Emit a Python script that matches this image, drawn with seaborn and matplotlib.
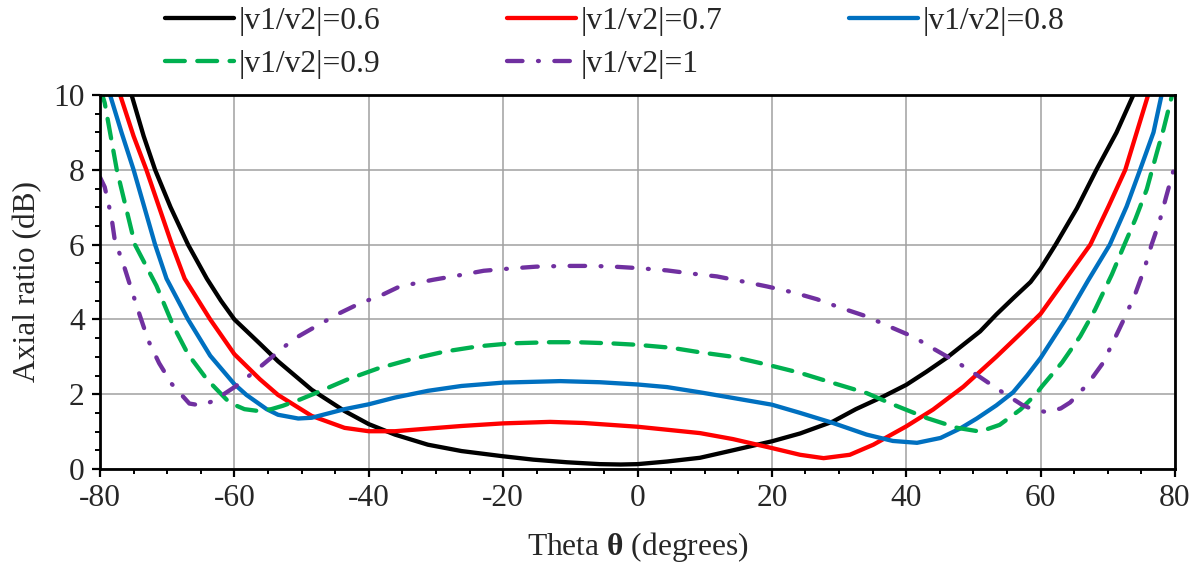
import numpy as np
import pandas as pd
import matplotlib
matplotlib.use("Agg")
import matplotlib.pyplot as plt
import seaborn as sns
from matplotlib.ticker import MultipleLocator

# ---------------- data ----------------
labels = ["|v1/v2|=0.6", "|v1/v2|=0.7", "|v1/v2|=0.8", "|v1/v2|=0.9", "|v1/v2|=1"]

x06 = [-75.3, -73.5, -71.8, -69.5, -66.9, -64.1, -62.0, -60.0, -56.2, -53.5, -48.5, -43.6,
       -40.0, -36.1, -31.2, -26.2, -20.0, -15.5, -10.5, -5.6, -2.5, 0.0, 4.4, 9.3, 14.2,
       20.0, 24.2, 29.1, 32.5, 36.6, 40.0, 43.0, 46.0, 51.0, 53.4, 56.0, 58.5, 60.0, 62.3,
       65.4, 68.3, 71.3, 73.8]
y06 = [10.0, 8.9, 8.0, 7.0, 6.0, 5.09, 4.5, 4.0, 3.35, 2.88, 2.12, 1.55,
       1.2, 0.92, 0.65, 0.48, 0.34, 0.25, 0.18, 0.13, 0.12, 0.13, 0.2, 0.3, 0.5,
       0.74, 0.95, 1.27, 1.6, 1.94, 2.25, 2.6, 2.97, 3.68, 4.13, 4.58, 5.0, 5.36, 6.02,
       6.97, 8.0, 9.0, 10.0]

x07 = [-77.0, -75.0, -73.1, -71.2, -69.3, -67.4, -63.6, -60.0, -56.2, -53.5, -48.5, -43.6,
       -40.0, -36.1, -31.2, -26.2, -20.0, -13.0, -8.0, 0.0, 4.4, 9.3, 14.2, 20.0, 24.2,
       27.7, 31.6, 35.1, 40.0, 44.0, 48.5, 53.4, 57.0, 60.0, 64.6, 67.4, 70.1, 72.6, 74.3,
       76.0]
y07 = [10.0, 8.9, 8.0, 7.0, 6.0, 5.09, 4.0, 3.07, 2.4, 1.98, 1.42, 1.10,
       1.01, 1.01, 1.08, 1.15, 1.22, 1.26, 1.23, 1.13, 1.05, 0.96, 0.8, 0.56, 0.38,
       0.29, 0.38, 0.65, 1.14, 1.59, 2.2, 3.0, 3.62, 4.15, 5.3, 6.0, 7.02, 8.0, 9.0,
       10.0]

x08 = [-78.5, -76.8, -75.0, -73.4, -71.8, -70.1, -66.9, -63.6, -60.0, -58.2, -55.2, -53.5,
       -50.5, -48.5, -43.6, -40.0, -36.1, -31.2, -26.2, -20.0, -11.5, -5.6, 0.0, 4.4, 9.3,
       14.2, 20.0, 24.2, 29.1, 34.1, 38.0, 41.6, 45.1, 48.0, 50.5, 53.4, 55.9, 58.0, 60.0,
       63.7, 67.1, 70.3, 72.8, 74.8, 76.8, 78.0]
y08 = [10.0, 9.0, 8.0, 7.0, 6.0, 5.09, 4.0, 3.03, 2.27, 1.98, 1.6, 1.45,
       1.35, 1.37, 1.60, 1.73, 1.91, 2.09, 2.22, 2.31, 2.35, 2.32, 2.26, 2.19, 2.05,
       1.90, 1.72, 1.50, 1.23, 0.92, 0.75, 0.70, 0.83, 1.08, 1.35, 1.7, 2.05, 2.5, 2.97,
       4.0, 5.05, 6.0, 7.02, 8.0, 9.0, 10.0]

x09 = [-80.0, -79.3, -77.5, -74.8, -71.6, -69.1, -66.9, -64.1, -60.7, -58.5, -56.4, -54.5,
       -52.8, -50.2, -47.5, -43.1, -38.6, -33.6, -28.7, -23.7, -18.8, -13.0, -9.0, -4.0,
       0.0, 5.1, 9.3, 14.2, 19.3, 24.2, 29.1, 34.1, 38.1, 43.1, 47.6, 51.0, 53.9, 57.0,
       59.3, 60.2, 63.2, 65.9, 68.1, 70.6, 72.4, 74.1, 75.8, 77.3, 78.3, 79.5]
y09 = [10.2, 9.79, 8.0, 6.0, 4.9, 3.83, 3.07, 2.4, 1.77, 1.6, 1.55, 1.6,
       1.69, 1.86, 2.06, 2.40, 2.69, 2.94, 3.14, 3.28, 3.36, 3.39, 3.39, 3.36,
       3.32, 3.24, 3.12, 3.0, 2.79, 2.57, 2.3, 2.03, 1.72, 1.36, 1.10, 1.0, 1.18, 1.59,
       2.0, 2.21, 2.85, 3.55, 4.26, 5.2, 5.97, 6.68, 7.48, 8.46, 9.09, 9.95]

x10 = [-80.0, -79.3, -78.3, -77.8, -76.4, -75.5, -74.1, -72.8, -71.2, -69.3, -66.7, -65.0,
       -63.1, -59.9, -56.9, -53.9, -51.2, -47.9, -44.3, -41.2, -38.3, -35.4, -30.4, -26.2,
       -22.9, -19.0, -15.1, -10.7, -6.7, -3.5, 0.2, 4.4, 8.3, 11.8, 15.8, 19.3, 23.2, 26.7,
       30.4, 34.1, 37.6, 41.1, 44.3, 47.6, 50.8, 54.0, 57.2, 59.0, 61.0, 63.0, 64.4, 67.0,
       69.3, 70.9, 72.6, 74.1, 75.4, 76.5, 77.7, 78.7, 79.8, 80.0]
y10 = [7.8, 7.54, 6.74, 6.12, 5.41, 4.9, 4.12, 3.43, 2.83, 2.27, 1.75, 1.70,
       1.82, 2.2, 2.62, 3.07, 3.47, 3.81, 4.17, 4.44, 4.63, 4.88, 5.06, 5.19,
       5.30, 5.36, 5.41, 5.43, 5.43, 5.41, 5.37, 5.31, 5.22, 5.15, 5.01, 4.88, 4.72, 4.54,
       4.30, 4.08, 3.80, 3.53, 3.19, 2.85, 2.48, 2.09, 1.72, 1.58, 1.52, 1.62, 1.78, 2.27,
       2.84, 3.44, 4.08, 4.69, 5.33, 5.99, 6.62, 7.29, 8.0, 8.2]

xs = [x06, x07, x08, x09, x10]
ys = [y06, y07, y08, y09, y10]

x_ticks = [-80, -60, -40, -20, 0, 20, 40, 60, 80]
y_ticks = [0, 2, 4, 6, 8, 10]

colors = ["#000000", "#FF0000", "#0070C0", "#00B050", "#7030A0"]
styles = ["-", "-", "-", (0, (4.6, 2.9)), (0, (3.6, 3.6, 0.2, 3.6))]

# ---------------- style ----------------
sns.set_theme(style="white")
plt.rcParams["font.family"] = ["Liberation Serif", "DejaVu Serif"]
plt.rcParams["mathtext.fontset"] = "custom"
plt.rcParams["mathtext.rm"] = "Liberation Serif"
plt.rcParams["mathtext.it"] = "Liberation Serif:italic"
plt.rcParams["mathtext.bf"] = "Liberation Serif:bold"
plt.rcParams["axes.unicode_minus"] = False

FS = 22.7

fig = plt.figure(figsize=(12, 5.65), dpi=100)
ax = fig.add_axes([100 / 1200, 1 - 469 / 565, 1075 / 1200, 374 / 565])

handles = []
for x, y, lab, c, ls in zip(xs, ys, labels, colors, styles):
    df = pd.DataFrame({"theta": x, "ar": y})
    sns.lineplot(data=df, x="theta", y="ar", ax=ax, color=c, linewidth=3.1,
                 linestyle=ls, estimator=None, sort=False, label=lab)
    line = ax.get_lines()[-1]
    line.set_solid_joinstyle("round")
    line.set_dash_joinstyle("round")
    if ls != "-":
        line.set_dash_capstyle("round")
    handles.append(line)

leg = ax.get_legend()
if leg is not None:
    leg.remove()

ax.set_xlim(-80, 80)
ax.set_ylim(0, 10)
ax.set_xticks(x_ticks)
ax.set_yticks(y_ticks)
ax.set_xticklabels([str(v) for v in x_ticks])
ax.set_yticklabels([str(v) for v in y_ticks])
ax.xaxis.set_minor_locator(MultipleLocator(5))
ax.yaxis.set_minor_locator(MultipleLocator(0.5))
ax.tick_params(which="major", direction="out", length=6, width=1.6,
               labelsize=FS, color="black", pad=5, bottom=True, left=True)
ax.tick_params(which="minor", direction="out", length=3.8, width=1.4,
               color="black", bottom=True, left=True)

ax.grid(True, which="major", color="#A0A0A0", linewidth=1.1)
ax.set_axisbelow(True)
for s in ax.spines.values():
    s.set_visible(True)
    s.set_color("black")
    s.set_linewidth(2.0)

ax.set_xlabel(r"Theta $\mathbf{\theta}$ (degrees)", fontsize=FS, labelpad=12)
ax.set_ylabel("Axial ratio (dB)", fontsize=FS, labelpad=8)

# legend filled row by row like the reference (matplotlib fills by column)
order = [0, 3, 1, 4, 2]
fig.legend(handles=[handles[i] for i in order], labels=[labels[i] for i in order],
           loc="upper left", bbox_to_anchor=(165 / 1200, 1 - 7 / 565), ncol=3,
           frameon=False, fontsize=FS, handlelength=2.2, handletextpad=0.15,
           columnspacing=4.0, labelspacing=0.45, borderpad=0, borderaxespad=0)

fig.savefig("out.png", dpi=100)
